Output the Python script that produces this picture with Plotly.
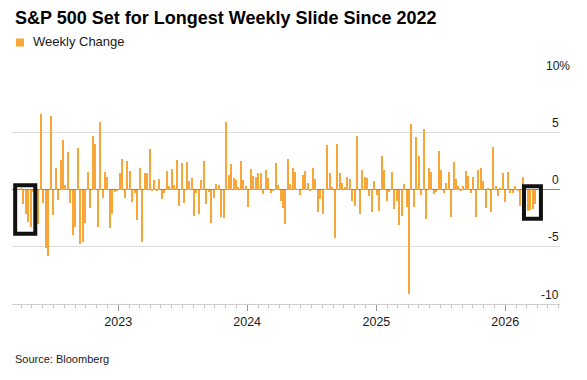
import plotly.graph_objects as go
import pandas as pd

# ---- data (weekly % change of S&P 500, week ending Friday) ----
chg_2022 = [0.1, -1.3, -2.1, -2.8, -3.3, -0.2, -2.4, -3.0, 6.6, -1.2, -5.1, -5.8, 6.4,
            -2.2, 1.9, -0.9, 2.6, 4.3, 0.4, 3.3, -1.2, -4.0, -3.3, 3.6, -4.8, -4.6, -2.9,
            1.5, -1.6, 4.7, 4.0, -3.3, 5.9, -0.7, 1.5, 1.1, -3.4, -2.1, -0.2, -0.1]
chg_2023 = [1.4, 2.7, -0.7, 2.5, 1.6, -1.1, -0.3, -2.7, 1.9, -4.6, 1.4, 1.4, 3.5,
            -0.1, 0.8, -0.1, 0.9, -0.8, -0.3, 1.6, 0.3, 1.8, 0.4, 2.6, -1.4, 2.3,
            -1.2, 2.4, 0.7, 1.0, -2.3, -0.3, -2.1, 0.8, 2.5, -1.3, -0.2, -2.9, -0.7,
            0.5, 0.4, -2.4, -2.5, 5.9, 1.3, 2.2, 1.0, 0.8, 0.2, 2.5, 0.8, 0.3]
chg_2024 = [-1.5, 1.8, 1.2, 1.1, 1.4, 1.4, -0.4, 1.7, 1.0, -0.3, -0.1, 2.3, 0.4,
            -1.0, -1.6, -3.0, 2.7, 0.5, 1.9, 1.5, 0.03, -0.5, 1.3, 1.6, 0.6, -0.1,
            1.9, 0.9, -2.0, -0.8, -2.1, -0.04, 3.9, 1.4, 0.2, -4.2, 4.0, 1.4, 0.6,
            0.2, 1.1, 0.9, -1.0, -1.4, 4.7, -2.1, 1.7, 1.1, 1.0, -0.6, -2.0, 0.7]
chg_2025 = [-0.5, -1.9, 2.9, 1.7, -1.0, -0.2, 1.5, -1.7, -1.0, -3.1, -2.3, 0.5, -1.5,
            -9.1, 5.7, -1.5, 4.6, 2.9, -0.5, 5.3, -2.6, 1.9, 1.5, -0.4, -0.2, 3.4,
            1.7, -0.3, 0.6, 1.5, -2.4, 2.4, 0.9, 0.3, -0.1, 0.3, 1.6, 1.2, -0.3,
            1.1, -2.4, 1.7, 1.9, 0.7, -1.6, 0.1, -2.0, 3.7, 0.3, -0.6, 0.1, 1.4]
chg_2026 = [-1.1, 1.5, -0.3, -0.3, 0.3, -0.1, -1.4, 1.1, -1.5, -1.9, -1.8, -1.7, -1.3]

weekly_change = chg_2022 + chg_2023 + chg_2024 + chg_2025 + chg_2026
week_end = pd.date_range("2022-04-01", periods=len(weekly_change), freq="W-FRI")

year_ticks = ["2023-01-01", "2024-01-01", "2025-01-01", "2026-01-01"]
year_labels = ["2023", "2024", "2025", "2026"]
y_ticks = [10, 5, 0, -5, -10]
y_labels = ["10%", "5", "0", "-5", "-10"]

# ---- styling ----
ORANGE = "#F7A637"
INK = "#1a1a1a"
FONT = "Liberation Sans, Arial, sans-serif"
W, H = 587, 380
OFF = 8  # page body margin added by the html page
# plot area in page pixels
P_LEFT, P_RIGHT, P_TOP, P_BOTTOM = 12, 560, 75, 304
ML = P_LEFT - OFF
MT = P_TOP - OFF
PW = P_RIGHT - P_LEFT
PH = P_BOTTOM - P_TOP
MR = W - ML - PW
MB = H - MT - PH


def px_x(x):
    return (x - P_LEFT) / PW


def px_y(y):
    return (P_BOTTOM - y) / PH


fig = go.Figure()
fig.add_trace(go.Bar(x=week_end, y=weekly_change, marker_color=ORANGE,
                     marker_line_width=0, width=4 * 86400000,
                     showlegend=False, hoverinfo="x+y"))

annotations = [
    dict(text="<b>S&P 500 Set for Longest Weekly Slide Since 2022</b>",
         xref="paper", yref="paper", x=px_x(14), y=px_y(18.5), xanchor="left",
         yanchor="middle", showarrow=False, borderpad=0,
         font=dict(family=FONT, size=18, color="#000000")),
    dict(text="Weekly Change", xref="paper", yref="paper", x=px_x(31.5),
         y=px_y(41.2), xanchor="left", yanchor="middle", showarrow=False,
         borderpad=0, font=dict(family=FONT, size=13, color=INK)),
    dict(text="Source: Bloomberg", xref="paper", yref="paper", x=px_x(14),
         y=px_y(359), xanchor="left", yanchor="middle", showarrow=False,
         borderpad=0, font=dict(family=FONT, size=11, color=INK)),
]
for v, lab in zip(y_ticks, y_labels):
    # numbers right-aligned at the gridline end; the % sign hangs past it
    x_right = 560 + (10.7 if lab.endswith("%") else 0)
    annotations.append(dict(text=lab, xref="paper", yref="y", x=px_x(x_right),
                            y=v, xanchor="right", yanchor="middle", yshift=9.5,
                            showarrow=False, borderpad=0,
                            font=dict(family=FONT, size=12, color=INK)))

shapes = [
    dict(type="rect", xref="paper", yref="paper", x0=px_x(16), x1=px_x(24),
         y0=px_y(46.5), y1=px_y(38.5), fillcolor=ORANGE, line=dict(width=0)),
    dict(type="rect", xref="x", yref="y", x0="2022-03-15", x1="2022-05-11",
         y0=0.37, y1=-3.86, line=dict(color="#111111", width=4),
         fillcolor="rgba(0,0,0,0)"),
    dict(type="rect", xref="x", yref="y", x0="2026-02-23", x1="2026-04-12",
         y0=0.28, y1=-2.55, line=dict(color="#111111", width=4),
         fillcolor="rgba(0,0,0,0)"),
]

fig.update_layout(
    width=W, height=H, margin=dict(l=ML, r=MR, t=MT, b=MB, autoexpand=False),
    paper_bgcolor="white", plot_bgcolor="white",
    font=dict(family=FONT, color=INK),
    bargap=0, annotations=annotations, shapes=shapes,
    xaxis=dict(type="date", range=["2022-03-06", "2026-06-05"],
               tickvals=year_ticks, ticktext=year_labels,
               ticks="outside", ticklen=6, tickcolor="#9a9a9a",
               showline=True, linecolor="#cfcfcf", linewidth=1,
               showgrid=False, zeroline=False, automargin=False,
               tickfont=dict(family=FONT, size=12.5, color=INK),
               minor=dict(ticks="outside", ticklen=3, tickcolor="#c4c4c4",
                          dtick="M1", tick0="2022-01-01", showgrid=False)),
    yaxis=dict(range=[-10, 10], dtick=5, tick0=0, showgrid=True,
               gridcolor="#dcdcdc", gridwidth=1, zeroline=True,
               zerolinecolor="#8a8a8a", zerolinewidth=1, automargin=False,
               showticklabels=False, ticks=""),
)

fig.write_html("out.html")
